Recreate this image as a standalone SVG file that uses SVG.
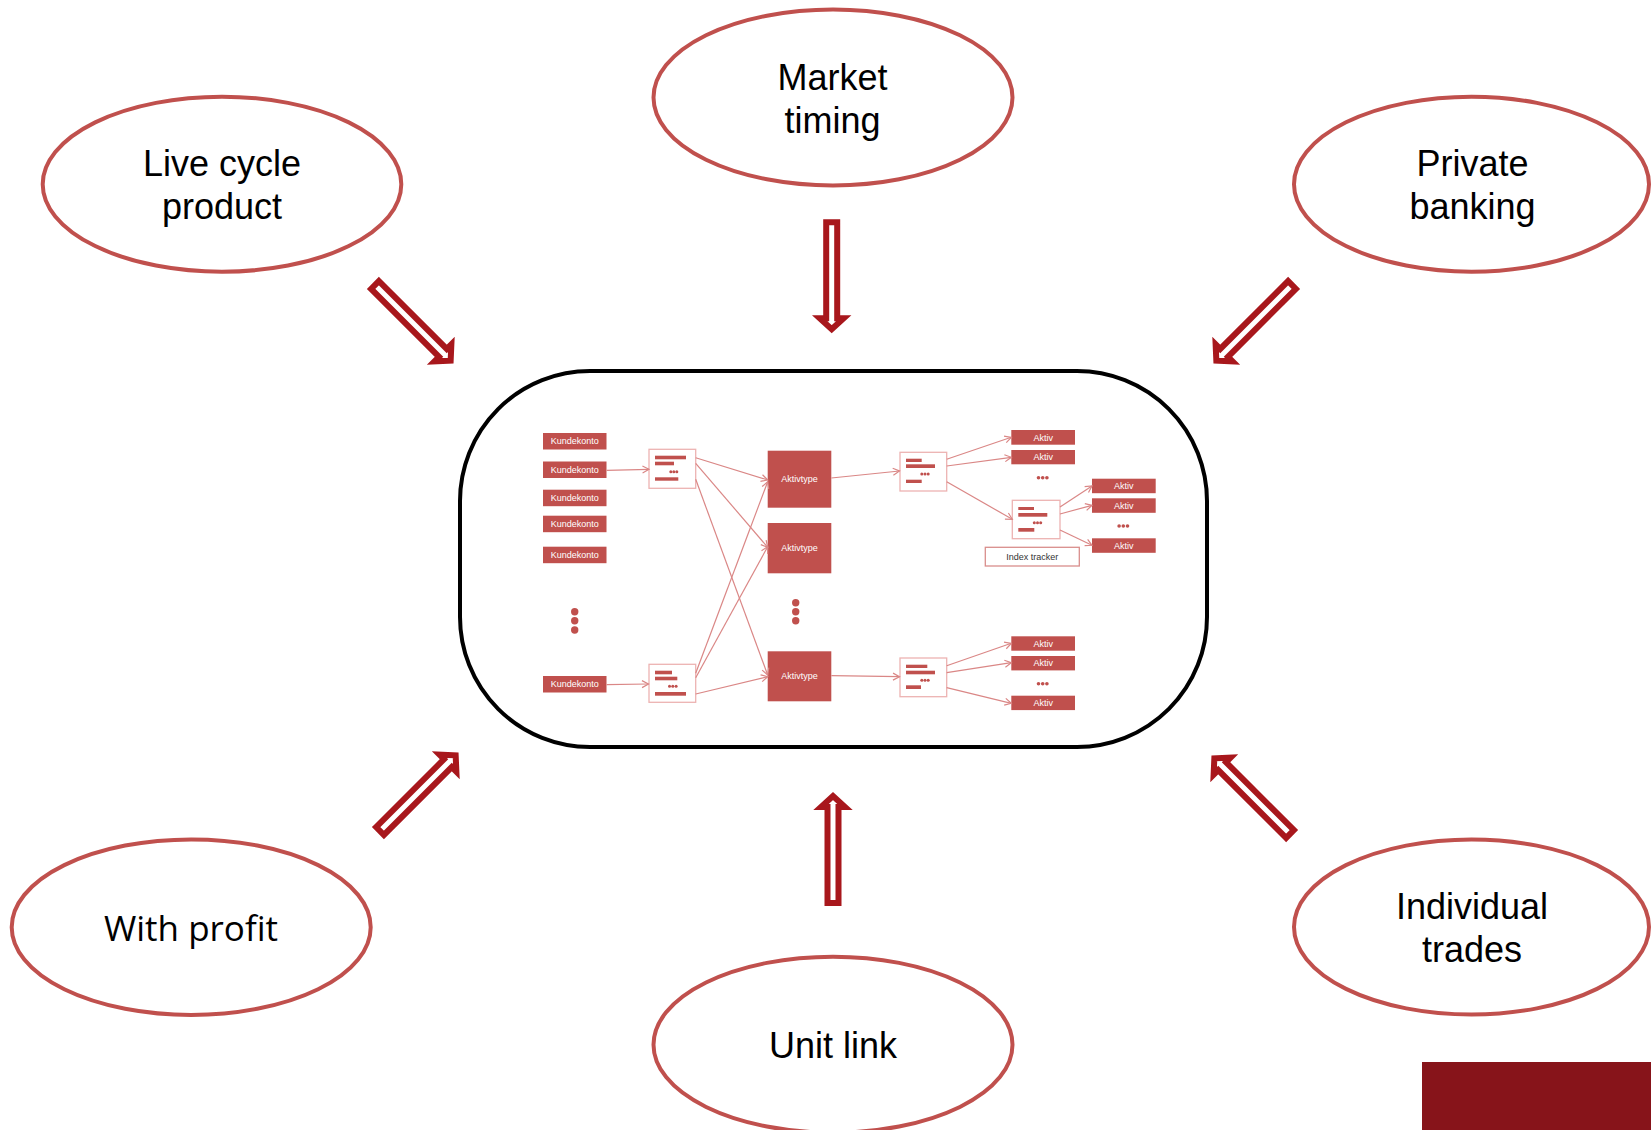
<svg xmlns="http://www.w3.org/2000/svg" xmlns:xlink="http://www.w3.org/1999/xlink" width="1651" height="1130" viewBox="0 0 1651 1130">
<style>
.ell{fill:#fff;stroke:#C0504D;stroke-width:4}
.lbl{font-family:"Liberation Sans",Arial,sans-serif;font-size:36px;fill:#000;text-anchor:middle}
.lbl2{font-family:"Open Sans","Noto Sans",sans-serif;font-size:35px;fill:#000;text-anchor:middle}
.blk{fill:#fff;stroke:#A8171C;stroke-width:6;stroke-linejoin:miter;stroke-miterlimit:10}
.rb{fill:#C0504D}
.wt{font-family:"Liberation Sans",Arial,sans-serif;font-size:9px;fill:#fff;text-anchor:middle}
.wb{fill:#fff;stroke:#EDB3B2;stroke-width:1.3}
.bar{fill:#C0504D}
.ln{fill:none;stroke:#DA8786;stroke-width:1.2;marker-end:url(#ah)}
.dt{fill:#C0504D}
</style>
<defs>
<marker id="ah" markerWidth="10" markerHeight="10" refX="8" refY="5" orient="auto" markerUnits="userSpaceOnUse">
<path d="M1.5,1.5 L8,5 L1.5,8.5" fill="none" stroke="#DA8786" stroke-width="1.2"/>
</marker>
<path id="barrow" d="M0,-5.5 L96,-5.5 L96,-12 L107,0 L96,12 L96,5.5 L0,5.5 Z"/>
</defs>
<rect width="1651" height="1130" fill="#fff"/>

<g id="node-market-timing">
<ellipse class="ell" cx="833" cy="97.5" rx="179.5" ry="88"/>
<text class="lbl" x="832.5" y="90">Market</text>
<text class="lbl" x="832.5" y="133">timing</text>
</g>
<g id="node-live-cycle">
<ellipse class="ell" cx="222" cy="184.2" rx="179.3" ry="87.5"/>
<text class="lbl" x="222" y="175.7">Live cycle</text>
<text class="lbl" x="222" y="218.5">product</text>
</g>
<g id="node-private-banking">
<ellipse class="ell" cx="1471.5" cy="184.2" rx="177.5" ry="87.5"/>
<text class="lbl" x="1472.5" y="175.7">Private</text>
<text class="lbl" x="1472.5" y="219">banking</text>
</g>
<g id="node-with-profit">
<ellipse class="ell" cx="191.2" cy="927.2" rx="179.5" ry="87.8"/>
<text class="lbl2" x="191" y="941">With profit</text>
</g>
<g id="node-individual-trades">
<ellipse class="ell" cx="1471.5" cy="927" rx="177.5" ry="87.5"/>
<text class="lbl" x="1472" y="918.5">Individual</text>
<text class="lbl" x="1472" y="961.5">trades</text>
</g>
<g id="node-unit-link">
<ellipse class="ell" cx="833" cy="1044.7" rx="179.5" ry="88"/>
<text class="lbl" x="833" y="1058.3">Unit link</text>
</g>

<g id="node-center">
<rect x="460" y="371" width="747" height="376" rx="130" ry="130" fill="#fff" stroke="#000" stroke-width="4"/>
<g id="kundekonto">
<rect class="rb" x="543" y="433" width="63.5" height="16.5"/><text class="wt" x="574.8" y="444.3">Kundekonto</text>
<rect class="rb" x="543" y="461.5" width="63.5" height="16.5"/><text class="wt" x="574.8" y="472.8">Kundekonto</text>
<rect class="rb" x="543" y="489.7" width="63.5" height="16.5"/><text class="wt" x="574.8" y="501">Kundekonto</text>
<rect class="rb" x="543" y="515.7" width="63.5" height="16.5"/><text class="wt" x="574.8" y="527">Kundekonto</text>
<rect class="rb" x="543" y="546.7" width="63.5" height="16.5"/><text class="wt" x="574.8" y="558">Kundekonto</text>
<rect class="rb" x="543" y="676" width="63.5" height="16.5"/><text class="wt" x="574.8" y="687.3">Kundekonto</text>
<circle class="dt" cx="574.7" cy="611.7" r="3.7"/><circle class="dt" cx="574.7" cy="620.8" r="3.7"/><circle class="dt" cx="574.7" cy="630" r="3.7"/>
</g>
<g id="portfolio-1">
<rect class="wb" x="649" y="449.3" width="46.7" height="39"/>
<rect class="bar" x="655" y="455.7" width="31" height="3.6"/>
<rect class="bar" x="655" y="461.7" width="19" height="3.6"/>
<circle class="dt" cx="670.8" cy="471.7" r="1.5"/><circle class="dt" cx="673.8" cy="471.7" r="1.5"/><circle class="dt" cx="676.8" cy="471.7" r="1.5"/>
<rect class="bar" x="655" y="477.3" width="23.3" height="3.4"/>
</g>
<g id="portfolio-2">
<rect class="wb" x="649" y="664.3" width="46.7" height="38"/>
<rect class="bar" x="655" y="670.7" width="17" height="3.6"/>
<rect class="bar" x="655" y="676.7" width="22.3" height="3.6"/>
<circle class="dt" cx="669.5" cy="686.3" r="1.5"/><circle class="dt" cx="672.8" cy="686.3" r="1.5"/><circle class="dt" cx="676.1" cy="686.3" r="1.5"/>
<rect class="bar" x="655" y="692" width="31" height="3.7"/>
</g>
<g id="aktivtype">
<rect class="rb" x="767.7" y="450.7" width="63.6" height="57"/><text class="wt" x="799.5" y="482.2">Aktivtype</text>
<rect class="rb" x="767.7" y="523" width="63.6" height="50.3"/><text class="wt" x="799.5" y="551.2">Aktivtype</text>
<rect class="rb" x="767.7" y="651.3" width="63.6" height="50"/><text class="wt" x="799.5" y="679.3">Aktivtype</text>
<circle class="dt" cx="795.7" cy="602.7" r="3.7"/><circle class="dt" cx="795.7" cy="611.7" r="3.7"/><circle class="dt" cx="795.7" cy="620.7" r="3.7"/>
</g>
<g id="portfolio-3">
<rect class="wb" x="900" y="452.3" width="46.7" height="38.7"/>
<rect class="bar" x="906" y="458.7" width="15.7" height="3.3"/>
<rect class="bar" x="906" y="464.3" width="29" height="3.7"/>
<circle class="dt" cx="921.8" cy="474" r="1.5"/><circle class="dt" cx="925" cy="474" r="1.5"/><circle class="dt" cx="928.2" cy="474" r="1.5"/>
<rect class="bar" x="906" y="479.7" width="15.7" height="3.3"/>
</g>
<g id="portfolio-4">
<rect class="wb" x="1012.3" y="500.3" width="47.7" height="38.4"/>
<rect class="bar" x="1018.3" y="507" width="15.7" height="3"/>
<rect class="bar" x="1018.3" y="513" width="29" height="3.7"/>
<circle class="dt" cx="1034.3" cy="522.7" r="1.5"/><circle class="dt" cx="1037.5" cy="522.7" r="1.5"/><circle class="dt" cx="1040.7" cy="522.7" r="1.5"/>
<rect class="bar" x="1018.3" y="528" width="16" height="3.7"/>
</g>
<g id="portfolio-5">
<rect class="wb" x="900" y="658" width="46.7" height="38.7"/>
<rect class="bar" x="906" y="664.7" width="21.3" height="3.3"/>
<rect class="bar" x="906" y="670.7" width="29" height="3.6"/>
<circle class="dt" cx="921.8" cy="680.3" r="1.5"/><circle class="dt" cx="925" cy="680.3" r="1.5"/><circle class="dt" cx="928.2" cy="680.3" r="1.5"/>
<rect class="bar" x="906" y="685.3" width="15" height="3.7"/>
</g>
<g id="aktiv">
<rect class="rb" x="1011.3" y="430" width="63.7" height="14.7"/><text class="wt" x="1043.2" y="440.5">Aktiv</text>
<rect class="rb" x="1011.3" y="450" width="63.7" height="14.3"/><text class="wt" x="1043.2" y="460.3">Aktiv</text>
<circle class="dt" cx="1038.5" cy="477.7" r="1.8"/><circle class="dt" cx="1042.7" cy="477.7" r="1.8"/><circle class="dt" cx="1046.9" cy="477.7" r="1.8"/>
<rect class="rb" x="1092" y="478.7" width="63.7" height="14.5"/><text class="wt" x="1123.8" y="489">Aktiv</text>
<rect class="rb" x="1092" y="498.3" width="63.7" height="14.5"/><text class="wt" x="1123.8" y="508.6">Aktiv</text>
<circle class="dt" cx="1119.1" cy="526" r="1.8"/><circle class="dt" cx="1123.3" cy="526" r="1.8"/><circle class="dt" cx="1127.5" cy="526" r="1.8"/>
<rect class="rb" x="1092" y="538.3" width="63.7" height="14.5"/><text class="wt" x="1123.8" y="548.6">Aktiv</text>
<rect class="rb" x="1011.3" y="636.3" width="63.7" height="14.4"/><text class="wt" x="1043.2" y="646.6">Aktiv</text>
<rect class="rb" x="1011.3" y="656" width="63.7" height="14.4"/><text class="wt" x="1043.2" y="666.3">Aktiv</text>
<circle class="dt" cx="1038.5" cy="683.7" r="1.8"/><circle class="dt" cx="1042.7" cy="683.7" r="1.8"/><circle class="dt" cx="1046.9" cy="683.7" r="1.8"/>
<rect class="rb" x="1011.3" y="695.7" width="63.7" height="14.4"/><text class="wt" x="1043.2" y="706">Aktiv</text>
</g>
<g id="index-tracker">
<rect x="985.3" y="547.3" width="94" height="18.7" fill="#fff" stroke="#D98E8C" stroke-width="1.3"/>
<text x="1032.3" y="559.8" font-family="Liberation Sans, Arial, sans-serif" font-size="9" fill="#333" text-anchor="middle">Index tracker</text>
</g>
</g>

<g id="inner-connectors">
<path class="ln" d="M606.5,470.3 L649,469.3"/>
<path class="ln" d="M606.5,684.7 L648.5,684"/>
<path class="ln" d="M695.7,457.7 L767.7,480"/>
<path class="ln" d="M695.7,463.3 L767.7,547.3"/>
<path class="ln" d="M695.7,479.3 L767.7,675"/>
<path class="ln" d="M695.7,673.3 L767.7,481.7"/>
<path class="ln" d="M695.7,677.7 L767.7,546.7"/>
<path class="ln" d="M695.7,694 L767.7,676.7"/>
<path class="ln" d="M831.3,478 L899.5,471"/>
<path class="ln" d="M946.7,459.3 L1011.3,437.3"/>
<path class="ln" d="M946.7,466 L1011.3,457.3"/>
<path class="ln" d="M946.7,481.7 L1012.3,519.3"/>
<path class="ln" d="M1060,507 L1092,486"/>
<path class="ln" d="M1060,514 L1092,505.3"/>
<path class="ln" d="M1060,530 L1092,545.3"/>
<path class="ln" d="M831.3,675.7 L899.5,676.7"/>
<path class="ln" d="M946.7,665.7 L1011.3,643.3"/>
<path class="ln" d="M946.7,672.7 L1011.3,662.7"/>
<path class="ln" d="M946.7,687.7 L1011.3,703.3"/>
</g>

<g id="connectors">
<use xlink:href="#barrow" class="blk" transform="translate(831.7,222.3) rotate(90)"/>
<use xlink:href="#barrow" class="blk" transform="translate(833,903) rotate(-90)"/>
<use xlink:href="#barrow" class="blk" transform="translate(375,285) rotate(45)"/>
<use xlink:href="#barrow" class="blk" transform="translate(1292,285) rotate(135)"/>
<use xlink:href="#barrow" class="blk" transform="translate(380,831) rotate(-45)"/>
<use xlink:href="#barrow" class="blk" transform="translate(1290,834) rotate(-135)"/>
</g>

<rect id="corner-block" x="1422" y="1062" width="229" height="68" fill="#87141A"/>
</svg>
